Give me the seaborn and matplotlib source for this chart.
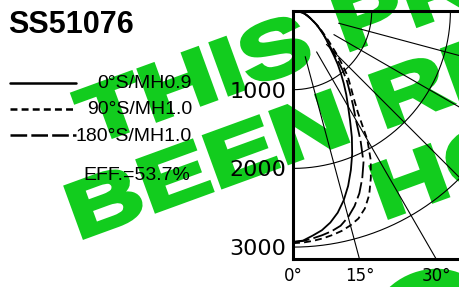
import numpy as np
import pandas as pd
import matplotlib
matplotlib.use("Agg")
import matplotlib.pyplot as plt
import seaborn as sns
from matplotlib.lines import Line2D
from matplotlib.textpath import TextPath
from matplotlib.patches import PathPatch, Ellipse
from matplotlib.font_manager import FontProperties
from matplotlib.transforms import Affine2D

# candela values, every 2.5 degrees
angles = [0, 2.5, 5, 7.5, 10, 12.5, 15, 17.5, 20, 22.5, 25, 27.5, 30, 32.5, 35, 37.5, 40, 42.5,
          45, 47.5, 50, 52.5, 55, 57.5, 60, 62.5, 65, 67.5, 70, 72.5, 75, 77.5, 80, 82.5, 85, 87.5, 90]
cd_0 = [2935, 2920, 2865, 2810, 2730, 2625, 2490, 2330, 2150, 1965, 1770, 1570, 1400, 1260, 1125, 1000, 885, 770,
        670, 600, 540, 485, 430, 385, 340, 300, 265, 237, 210, 187, 165, 142, 120, 93, 65, 33, 0]
cd_90 = [2950, 2945, 2932, 2914, 2890, 2862, 2820, 2765, 2670, 2530, 2340, 2140, 1890, 1540, 1340, 1200, 1080, 930,
         800, 680, 590, 510, 450, 395, 350, 305, 270, 238, 210, 187, 165, 142, 120, 93, 65, 33, 0]
cd_180 = [2935, 2925, 2900, 2872, 2840, 2795, 2710, 2600, 2465, 2300, 2120, 1860, 1600, 1420, 1260, 1130, 980, 830,
          700, 610, 545, 487, 432, 386, 340, 300, 265, 237, 210, 187, 165, 142, 120, 93, 65, 33, 0]

series_labels = ["0°S/MH0.9", "90°S/MH1.0", "180°S/MH1.0"]
efficiency = "EFF.=53.7%"
model = "SS51076"

grid_radii = [1000, 2000, 3000]
radial_angles = [15, 30, 45, 60, 75]
ytick_vals = [1000, 2000, 3000]
xtick_angles = [0, 15, 30]

W, H = 459, 287
PX_PER_KCD = 78.7
GREEN = "#12cc1e"

sns.set_style("white")
plt.rcParams["font.family"] = ["DejaVu Sans"]
plt.rcParams["lines.scale_dashes"] = False
for k in ["text.color", "axes.labelcolor", "xtick.color", "ytick.color"]:
    plt.rcParams[k] = "black"

fig = plt.figure(figsize=(W / 100, H / 100), dpi=100)

# watermark, drawn behind everything
fp = FontProperties(family="Liberation Sans", weight="bold")


def watermark(text, x, y, size=78, sx=1.36, ang=20):
    tp = TextPath((0, 0), text, size=size, prop=fp)
    tr = Affine2D().scale(sx, 1).rotate_deg(ang).translate(x, H - y).scale(1 / W, 1 / H) + fig.transFigure
    fig.add_artist(PathPatch(tp, transform=tr, fc=GREEN, ec=GREEN, lw=3, joinstyle="miter", zorder=-5))


watermark("THIS PRODUCT", 89.7, 144.8)
watermark("BEEN REPLACED", 77.5, 239.7)
watermark("HO", 382.5, 219.7)
blob = Ellipse((0, 0), 120, 100, angle=20, fc=GREEN, ec="none", zorder=-5,
               transform=Affine2D().translate(430, H - 320).scale(1 / W, 1 / H) + fig.transFigure)
fig.add_artist(blob)

# polar chart area
ax_left, ax_top, ax_bot, ax_right = 293 / W, 1 - 11 / H, 1 - 259 / H, 1.15
ax = fig.add_axes([ax_left, ax_bot, ax_right - ax_left, ax_top - ax_bot])
ax.set_facecolor("none")
ymax = (259 - 11) / PX_PER_KCD * 1000
xmax = (ax_right - ax_left) * W / PX_PER_KCD * 1000
ax.set_xlim(0, xmax)
ax.set_ylim(ymax, 0)

t = np.radians(np.linspace(0, 90, 200))
for r in grid_radii:
    ax.plot(r * np.sin(t), r * np.cos(t), color="black", lw=0.8)
for a in radial_angles:
    ar = np.radians(a)
    ax.plot([600 * np.sin(ar), 8000 * np.sin(ar)], [600 * np.cos(ar), 8000 * np.cos(ar)], color="black", lw=0.8)

styles = ["-", (0, (5, 3)), (0, (12, 3))]
rad = np.radians(angles)
for vals, ls in zip([cd_0, cd_90, cd_180], styles):
    df = pd.DataFrame({"x": np.array(vals) * np.sin(rad), "y": np.array(vals) * np.cos(rad)})
    sns.lineplot(data=df, x="x", y="y", sort=False, estimator=None, color="black", lw=1.3, linestyle=ls, ax=ax)

ax.set_yticks(ytick_vals)
ax.set_yticklabels([str(v) for v in ytick_vals], fontsize=16)
ax.set_xticks([ymax * np.tan(np.radians(a)) for a in xtick_angles])
ax.set_xticklabels([f"{a}°" for a in xtick_angles], fontsize=12)
ax.tick_params(axis="y", length=0, pad=5)
ax.tick_params(axis="x", length=0, pad=6)
ax.set_xlabel("")
ax.set_ylabel("")
for s in ["left", "top", "bottom"]:
    ax.spines[s].set_linewidth(2.2)
    ax.spines[s].set_color("black")
ax.spines["right"].set_visible(False)

# title and legend
fig.text(8 / W, 1 - 33 / H, model, fontsize=22, fontweight="bold", family="Liberation Sans", va="baseline")
leg_y = [82.7, 109, 135]
base_y = [88, 114.3, 140.6]
for y, by, ls, lab in zip(leg_y, base_y, styles, series_labels):
    fig.add_artist(Line2D([10 / W, 76 / W], [1 - y / H] * 2, transform=fig.transFigure,
                          color="black", lw=1.8, linestyle=ls))
    fig.text(192 / W, 1 - by / H, lab, ha="right", va="baseline", fontsize=14, family="Liberation Sans")
fig.text(190 / W, 1 - 180 / H, efficiency, ha="right", va="baseline", fontsize=14, family="Liberation Sans")

fig.savefig("out.png", dpi=100)
